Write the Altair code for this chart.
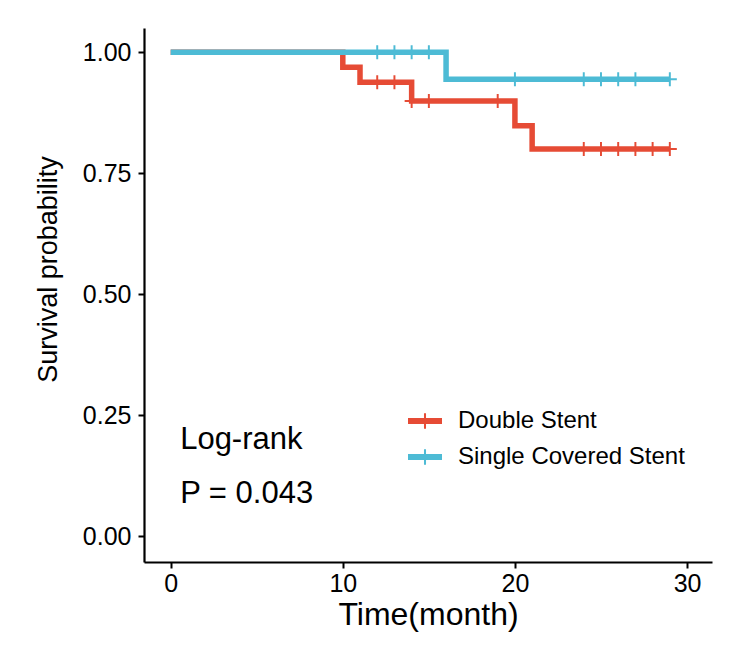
import altair as alt
import pandas as pd

FONT = "Liberation Sans"

groups = ["Double Stent", "Single Covered Stent"]
colors = ["#E64B35", "#4DBBD5"]

# Kaplan-Meier step curves (time in months, survival probability)
ds_time = [0, 10, 11, 14, 20, 21, 29]
ds_surv = [1.0, 0.969, 0.938, 0.899, 0.848, 0.800, 0.800]
sc_time = [0, 16, 29]
sc_surv = [1.0, 0.944, 0.944]

# censoring marks
ds_cens_time = [12, 13, 14, 15, 19, 24, 25, 26, 27, 28, 29]
ds_cens_surv = [0.938, 0.938, 0.899, 0.899, 0.899, 0.800, 0.800, 0.800, 0.800, 0.800, 0.800]
sc_cens_time = [12, 13, 14, 15, 20, 24, 25, 26, 27, 29]
sc_cens_surv = [1.0, 1.0, 1.0, 1.0, 0.944, 0.944, 0.944, 0.944, 0.944, 0.944]

x_ticks = [0, 10, 20, 30]
y_ticks = [0.0, 0.25, 0.50, 0.75, 1.0]

curves = pd.DataFrame({
    "time": ds_time + sc_time,
    "surv": ds_surv + sc_surv,
    "curve": [groups[0]] * len(ds_time) + [groups[1]] * len(sc_time),
})
cens = pd.DataFrame({
    "time": ds_cens_time + sc_cens_time,
    "surv": ds_cens_surv + sc_cens_surv,
    "group": [groups[0]] * len(ds_cens_time) + [groups[1]] * len(sc_cens_time),
})

xscale = alt.Scale(domain=[-1.55, 31.45], nice=False, zero=False)
yscale = alt.Scale(domain=[-0.053, 1.05], nice=False, zero=False)

xaxis = alt.Axis(values=x_ticks, title="Time(month)", grid=False,
                 labelFontSize=25, titleFontSize=32, labelPadding=3, titlePadding=3)
yaxis = alt.Axis(values=y_ticks, format=".2f", title="Survival probability", grid=False,
                 labelFontSize=25, titleFontSize=27, labelPadding=7,
                 titleX=-88, titleY=241, titleBaseline="alphabetic", titleAlign="center")

CROSS = "M-1,-0.14L1,-0.14L1,0.14L-1,0.14Z M-0.14,-1L0.14,-1L0.14,1L-0.14,1Z"
KEY = "M-1,-0.18L1,-0.18L1,0.18L-1,0.18Z M-0.06,-0.45L0.06,-0.45L0.06,0.45L-0.06,0.45Z"

lines = alt.Chart(curves).mark_line(interpolate="step-after", strokeWidth=5.5).encode(
    x=alt.X("time:Q", scale=xscale, axis=xaxis),
    y=alt.Y("surv:Q", scale=yscale, axis=yaxis),
    stroke=alt.Stroke("curve:N", scale=alt.Scale(range=colors), legend=None),
)

marks = alt.Chart(cens).mark_point(filled=True, shape=CROSS, size=196, opacity=1).encode(
    x=alt.X("time:Q", scale=xscale),
    y=alt.Y("surv:Q", scale=yscale),
    fill=alt.Fill("group:N", scale=alt.Scale(domain=groups, range=colors),
                  legend=alt.Legend(title=None, orient="none", legendX=264, legendY=376,
                                    symbolType=KEY, symbolSize=1156, symbolOpacity=1,
                                    symbolStrokeWidth=0, labelFontSize=24, labelFont=FONT,
                                    labelColor="black", labelOffset=16, rowPadding=7,
                                    padding=0, labelLimit=400)),
)

ann1 = alt.Chart().mark_text(text="Log-rank", align="left", baseline="alphabetic",
                              fontSize=31, font=FONT, color="black").encode(
    x=alt.datum(0.55, scale=xscale), y=alt.datum(0.180, scale=yscale))
ann2 = alt.Chart().mark_text(text="P = 0.043", align="left", baseline="alphabetic",
                              fontSize=31, font=FONT, color="black").encode(
    x=alt.datum(0.55, scale=xscale), y=alt.datum(0.069, scale=yscale))

chart = alt.layer(lines, marks, ann1, ann2).properties(
    width=568, height=534,
    autosize=alt.AutoSizeParams(type="none"),
    padding={"left": 136, "top": 20, "right": 20, "bottom": 75},
).configure_view(stroke=None).configure_axis(
    domainColor="black", domainWidth=2.2, tickColor="black", tickWidth=2, tickSize=6,
    labelColor="black", titleColor="black", labelFont=FONT, titleFont=FONT,
    titleFontWeight="normal",
)

chart.save("out.html", embed_options={"renderer": "svg", "actions": False})
